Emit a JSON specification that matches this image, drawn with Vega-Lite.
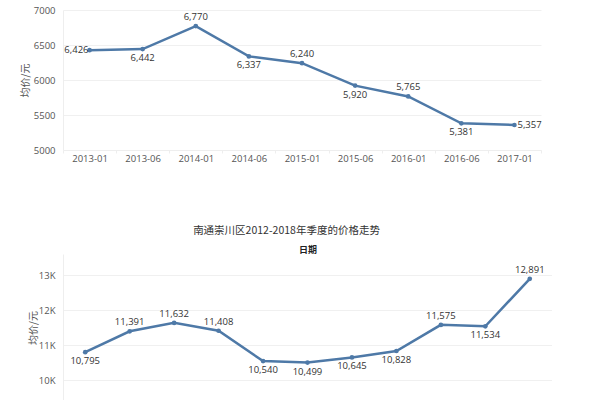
{
  "$schema": "https://vega.github.io/schema/vega-lite/v6.json",
  "padding": {"left": 20, "top": 5, "right": 0, "bottom": 0},
  "spacing": 62,
  "datasets": {
    "top": [
      {"date": "2013-01", "price": 6426},
      {"date": "2013-06", "price": 6442},
      {"date": "2014-01", "price": 6770},
      {"date": "2014-06", "price": 6337},
      {"date": "2015-01", "price": 6240},
      {"date": "2015-06", "price": 5920},
      {"date": "2016-01", "price": 5765},
      {"date": "2016-06", "price": 5381},
      {"date": "2017-01", "price": 5357}
    ],
    "bottom": [
      {"date": "2013-01", "price": 10795},
      {"date": "2013-06", "price": 11391},
      {"date": "2014-01", "price": 11632},
      {"date": "2014-06", "price": 11408},
      {"date": "2015-01", "price": 10540},
      {"date": "2015-06", "price": 10499},
      {"date": "2016-01", "price": 10645},
      {"date": "2016-06", "price": 10828},
      {"date": "2017-01", "price": 11575},
      {"date": "2017-06", "price": 11534},
      {"date": "2018-01", "price": 12891}
    ]
  },
  "config": {
    "font": "Open Sans",
    "view": {"stroke": null},
    "axis": {
      "labelFont": "Open Sans",
      "labelColor": "#555555",
      "labelFontSize": 9.5,
      "titleFont": "Noto Sans CJK SC",
      "titleFontWeight": "normal",
      "titleFontSize": 10,
      "titleColor": "#555555",
      "gridColor": "#f0f0f0",
      "domainColor": "#eeeeee",
      "tickColor": "#eeeeee"
    }
  },
  "vconcat": [
    {
      "width": 478,
      "height": 140,
      "data": {"name": "top"},
      "encoding": {
        "x": {
          "field": "date", "type": "ordinal", "sort": null, "bandPosition": 0.5,
          "scale": {"type": "band", "paddingInner": 0, "paddingOuter": 0},
          "axis": {"title": null, "labelAngle": 0, "tickBand": "extent", "tickSize": 3, "grid": false, "labelPadding": 0}
        },
        "y": {
          "field": "price", "type": "quantitative",
          "scale": {"domain": [5000, 7000], "nice": false, "zero": false},
          "axis": {"title": "均价/元", "values": [5000, 5500, 6000, 6500, 7000], "format": "d", "ticks": false, "labelPadding": 8, "titlePadding": 3}
        }
      },
      "layer": [
        {"mark": {"type": "line", "color": "#4e79a7", "strokeWidth": 2.5, "point": {"filled": true, "size": 22, "color": "#4e79a7"}}},
        {
          "transform": [{"filter": "indexof(['2014-01','2015-01','2016-01'], datum.date) >= 0"}],
          "mark": {"type": "text", "dy": -9, "fontSize": 9.5, "color": "#333333"},
          "encoding": {"text": {"field": "price", "type": "quantitative", "format": ",d"}}
        },
        {
          "transform": [{"filter": "indexof(['2013-06','2014-06','2015-06','2016-06'], datum.date) >= 0"}],
          "mark": {"type": "text", "dy": 9, "fontSize": 9.5, "color": "#333333"},
          "encoding": {"text": {"field": "price", "type": "quantitative", "format": ",d"}}
        },
        {
          "transform": [{"filter": "datum.date == '2013-01'"}],
          "mark": {"type": "text", "align": "right", "dx": -1, "fontSize": 9.5, "color": "#333333"},
          "encoding": {"text": {"field": "price", "type": "quantitative", "format": ",d"}}
        },
        {
          "transform": [{"filter": "datum.date == '2017-01'"}],
          "mark": {"type": "text", "align": "left", "dx": 3, "fontSize": 9.5, "color": "#333333"},
          "encoding": {"text": {"field": "price", "type": "quantitative", "format": ",d"}}
        }
      ]
    },
    {
      "width": 489,
      "height": 147,
      "title": {"text": "南通崇川区2012-2018年季度的价格走势", "font": "Noto Sans CJK SC", "fontSize": 10.5, "fontWeight": "normal", "color": "#333333", "offset": 9, "dx": -21},
      "data": {"name": "bottom"},
      "encoding": {
        "x": {
          "field": "date", "type": "ordinal", "sort": null, "bandPosition": 0.5,
          "scale": {"type": "band", "paddingInner": 0, "paddingOuter": 0},
          "axis": {"orient": "top", "title": "日期", "titleFontWeight": "bold", "titleColor": "#222222", "titleFontSize": 9, "labels": false, "ticks": false, "domain": false, "grid": false, "titlePadding": 0}
        },
        "y": {
          "field": "price", "type": "quantitative",
          "scale": {"domain": [9400, 13600], "nice": false, "zero": false},
          "axis": {"title": "均价/元", "values": [10000, 11000, 12000, 13000], "labelExpr": "format(datum.value / 1000, 'd') + 'K'", "ticks": false, "labelPadding": 8, "titlePadding": 0}
        }
      },
      "layer": [
        {"mark": {"type": "line", "color": "#4e79a7", "strokeWidth": 2.5, "point": {"filled": true, "size": 22, "color": "#4e79a7"}}},
        {
          "transform": [{"filter": "indexof(['2013-06','2014-01','2014-06','2017-01','2018-01'], datum.date) >= 0"}],
          "mark": {"type": "text", "dy": -9, "fontSize": 9.5, "color": "#333333"},
          "encoding": {"text": {"field": "price", "type": "quantitative", "format": ",d"}}
        },
        {
          "transform": [{"filter": "indexof(['2013-01','2015-01','2015-06','2016-01','2016-06','2017-06'], datum.date) >= 0"}],
          "mark": {"type": "text", "dy": 9, "fontSize": 9.5, "color": "#333333"},
          "encoding": {"text": {"field": "price", "type": "quantitative", "format": ",d"}}
        }
      ]
    }
  ]
}
